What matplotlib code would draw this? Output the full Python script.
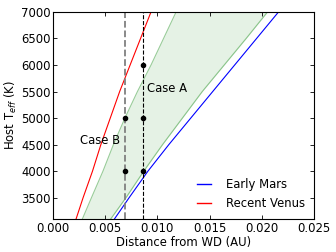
import matplotlib
matplotlib.use("Agg")
import matplotlib.pyplot as plt
from matplotlib.ticker import FormatStrFormatter, MultipleLocator

# Host effective temperatures (K)
temps = [3100, 3500, 4000, 4500, 5000, 5500, 6000, 6500, 7000]
# Distances (AU)
early_mars = [0.0059, 0.0073, 0.0091, 0.0111, 0.0132, 0.0153, 0.0174, 0.0195, 0.0216]
recent_venus = [0.00223, 0.0029, 0.0038, 0.0046, 0.0055, 0.0064, 0.0074, 0.0084, 0.0094]
band_inner = [0.00283, 0.0037, 0.0048, 0.0058, 0.0069, 0.0081, 0.0094, 0.0106, 0.0118]
band_outer = [0.00554, 0.0070, 0.0087, 0.0105, 0.0124, 0.0143, 0.0164, 0.0185, 0.02055]

case_b_d = 0.0069
case_a_d = 0.0086
case_b_temps = [4000, 5000]
case_a_temps = [4000, 5000, 6000]

FS = 8.4
plt.rcParams['font.family'] = ['DejaVu Sans']
fig = plt.figure(figsize=(3.36, 2.52), dpi=100)
ax = fig.add_axes([0.157, 0.131, 0.778, 0.822])

ax.fill_betweenx(temps, band_inner, band_outer, color='green', alpha=0.1, lw=0)
ax.plot(band_inner, temps, color='green', alpha=0.4, lw=0.8)
ax.plot(band_outer, temps, color='green', alpha=0.4, lw=0.8)
ax.plot(early_mars, temps, color='blue', lw=0.8, label='Early Mars')
ax.plot(recent_venus, temps, color='red', lw=0.8, label='Recent Venus')

ax.axvline(case_b_d, color='gray', ls='--', lw=1.3)
ax.axvline(case_a_d, color='black', ls='--', lw=0.8)
ax.plot([case_b_d] * len(case_b_temps), case_b_temps, 'ko', ms=3)
ax.plot([case_a_d] * len(case_a_temps), case_a_temps, 'ko', ms=3)

ax.text(0.00904, 5560, 'Case A', fontsize=FS, va='center', ha='left')
ax.text(0.00261, 4585, 'Case B', fontsize=FS, va='center', ha='left')

ax.set_xlim(0, 0.025)
ax.set_ylim(3100, 7000)
ax.xaxis.set_major_locator(MultipleLocator(0.005))
ax.xaxis.set_major_formatter(FormatStrFormatter('%.3f'))
ax.yaxis.set_major_locator(MultipleLocator(500))
ax.tick_params(direction='in', top=True, right=True, labelsize=FS, length=3, width=0.6)
ax.tick_params(axis='y', pad=1.2)
ax.tick_params(axis='x', pad=2.2)
for s in ax.spines.values():
    s.set_linewidth(0.8)

ax.set_xlabel('Distance from WD (AU)', fontsize=FS, labelpad=0.5)
ax.set_ylabel('Host T$_{eff}$ (K)', fontsize=FS, labelpad=2)

leg = ax.legend(loc='lower right', frameon=False, fontsize=FS, handlelength=1.2,
                handletextpad=1.3, borderaxespad=0.4, labelspacing=0.5)
for line in leg.get_lines():
    line.set_linewidth(1.0)

fig.savefig('out.png', dpi=100)
